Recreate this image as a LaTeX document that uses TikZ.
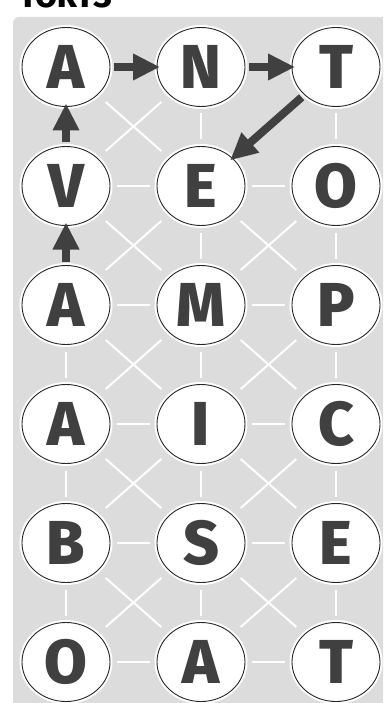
\documentclass[tikz,border=0pt]{standalone}
\usepackage{fontspec}
\setmainfont{Fira Sans}
\newfontfamily\heavyfont{Fira Sans}[UprightFont=* ExtraBold, BoldFont=* Black]
\usetikzlibrary{shapes.geometric,arrows.meta}
\definecolor{panel}{HTML}{DCDCDC}
\definecolor{ink}{HTML}{404040}
\begin{document}
\begin{tikzpicture}[x=1pt,y=-1pt,
  letter/.style={ellipse, minimum width=88pt, minimum height=79pt, inner sep=0pt, outer sep=0pt,
    fill=white, draw=black!85, line width=0.9pt, preaction={draw=white,line width=5pt},
    font=\fontsize{62}{62}\selectfont\heavyfont, text=ink},
  link/.style={draw=white, line width=2pt, shorten <=7pt, shorten >=7pt},
  diag/.style={draw=white, line width=2pt, shorten <=11pt, shorten >=11pt},
  move/.style={draw=ink, line width=8pt, -{Triangle[length=27pt,width=25pt]}, shorten <=4pt, shorten >=-3pt}]
\clip (0,0) rectangle (383,703);
\fill[panel, rounded corners=6pt] (13,17) rectangle (420,740);
\node[anchor=base west, inner sep=0pt, font=\fontsize{32}{32}\selectfont\heavyfont, text=black] (title) at (19,8) {TORTS};
% node positions
\foreach \r/\y in {1/67,2/186,3/305,4/424,5/543,6/662}{
  \foreach \c/\x in {1/66,2/201,3/336}{
    \coordinate (p\r\c) at (\x,\y);
  }
}
\node[letter] (n11) at (p11) {A};
\node[letter] (n12) at (p12) {N};
\node[letter] (n13) at (p13) {T};
\node[letter] (n21) at (p21) {V};
\node[letter] (n22) at (p22) {E};
\node[letter] (n23) at (p23) {O};
\node[letter] (n31) at (p31) {A};
\node[letter] (n32) at (p32) {M};
\node[letter] (n33) at (p33) {P};
\node[letter] (n41) at (p41) {A};
\node[letter] (n42) at (p42) {I};
\node[letter] (n43) at (p43) {C};
\node[letter] (n51) at (p51) {B};
\node[letter] (n52) at (p52) {S};
\node[letter] (n53) at (p53) {E};
\node[letter] (n61) at (p61) {O};
\node[letter] (n62) at (p62) {A};
\node[letter] (n63) at (p63) {T};
% horizontal links
\foreach \r in {2,3,4,5,6}{
  \draw[link] (n\r1) -- (n\r2);
  \draw[link] (n\r2) -- (n\r3);
}
% vertical links
\foreach \a/\b in {1/2,2/3,3/4,4/5,5/6}{
  \draw[link] (n\a2) -- (n\b2);
  \draw[link] (n\a3) -- (n\b3);
}
\foreach \a/\b in {3/4,4/5,5/6}{
  \draw[link] (n\a1) -- (n\b1);
}
% diagonal links
\foreach \a/\b in {1/2,2/3,3/4,4/5,5/6}{
  \draw[diag] (n\a1) -- (n\b2);
  \draw[diag] (n\a2) -- (n\b1);
  \draw[diag] (n\a3) -- (n\b2);
}
\foreach \a/\b in {2/3,3/4,4/5,5/6}{
  \draw[diag] (n\a2) -- (n\b3);
}
% arrows
\draw[move] (n11) -- (n12);
\draw[move] (n12) -- (n13);
\draw[move] (n13) -- (n22);
\draw[move] (n31) -- (n21);
\draw[move] (n21) -- (n11);
\end{tikzpicture}
\end{document}
